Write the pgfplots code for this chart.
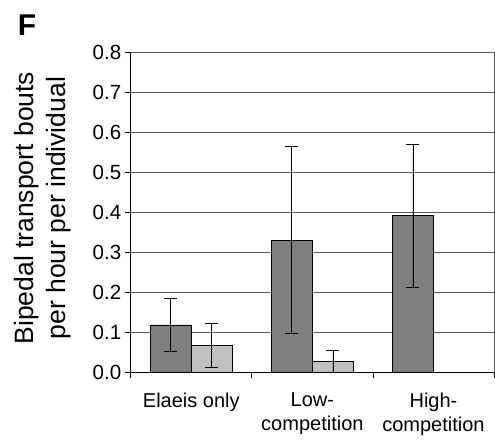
\documentclass[border=0pt]{standalone}
\usepackage{fontspec}
\setmainfont{Liberation Sans}
\usepackage{pgfplots}
\pgfplotsset{compat=1.18}
\usetikzlibrary{calc}
\definecolor{darkbar}{HTML}{808080}
\definecolor{lightbar}{HTML}{C0C0C0}
\definecolor{gridgray}{HTML}{5A5A5A}

\begin{document}
\begin{tikzpicture}
\begin{axis}[
    name=ax,
    scale only axis,
    width=363pt, height=320pt,
    ybar=0pt, bar width=41pt,
    xmin=-0.5, xmax=2.5,
    ymin=0, ymax=0.8,
    axis x line*=bottom, axis y line*=left,
    axis line style={-, black, line width=0.9pt},
    tick align=outside,
    major tick length=6pt,
    tick style={black, line width=0.8pt},
    xtick={-0.5,0.5,1.5,2.5},
    xticklabels={},
    extra x ticks={0,1,2},
    extra x tick labels={Elaeis only, Low-\\competition, High-\\competition},
    extra x tick style={major tick length=0pt, grid=none},
    xticklabel style={align=center, font=\fontsize{20}{24}\selectfont, yshift=-17pt},
    ytick={0,0.1,...,0.8},
    yticklabel style={font=\fontsize{20.5}{22}\selectfont,
        /pgf/number format/.cd, fixed, fixed zerofill, precision=1, assume math mode=true},
    ymajorgrids,
    major grid style={gridgray, line width=0.8pt},
]
\addplot[fill=darkbar, draw=black, line width=0.8pt,
    error bars/.cd, y dir=both, y explicit,
    error bar style={black, line width=0.8pt},
    error mark options={rotate=90, mark size=6.5pt, black, line width=0.8pt}]
    coordinates {(0,0.118) +- (0,0.067) (1,0.330) +- (0,0.233) (2,0.391) +- (0,0.178)};
\addplot[fill=lightbar, draw=black, line width=0.8pt,
    error bars/.cd, y dir=both, y explicit,
    error bar style={black, line width=0.8pt},
    error mark options={rotate=90, mark size=6.5pt, black, line width=0.8pt}]
    coordinates {(0,0.068) +- (0,0.055) (1,0.027) +- (0,0.027) (2,0) +- (0,0)};
\end{axis}
\draw[gridgray, line width=0.8pt] (ax.north east) -- (ax.south east);
\node[anchor=base west, inner sep=0pt, font=\fontsize{30}{32}\selectfont\bfseries]
    at ($(ax.north west)+(-113pt,17pt)$) {F};
\node[rotate=90, align=center, font=\fontsize{26.5}{32}\selectfont]
    at ($(ax.west)+(-88pt,4pt)$) {Bipedal transport bouts\\per hour per individual};
\pgfresetboundingbox
\path[use as bounding box] ($(ax.south west)+(-130.7pt,-72pt)$) rectangle ($(ax.north east)+(1pt,52pt)$);
\end{tikzpicture}
\end{document}
